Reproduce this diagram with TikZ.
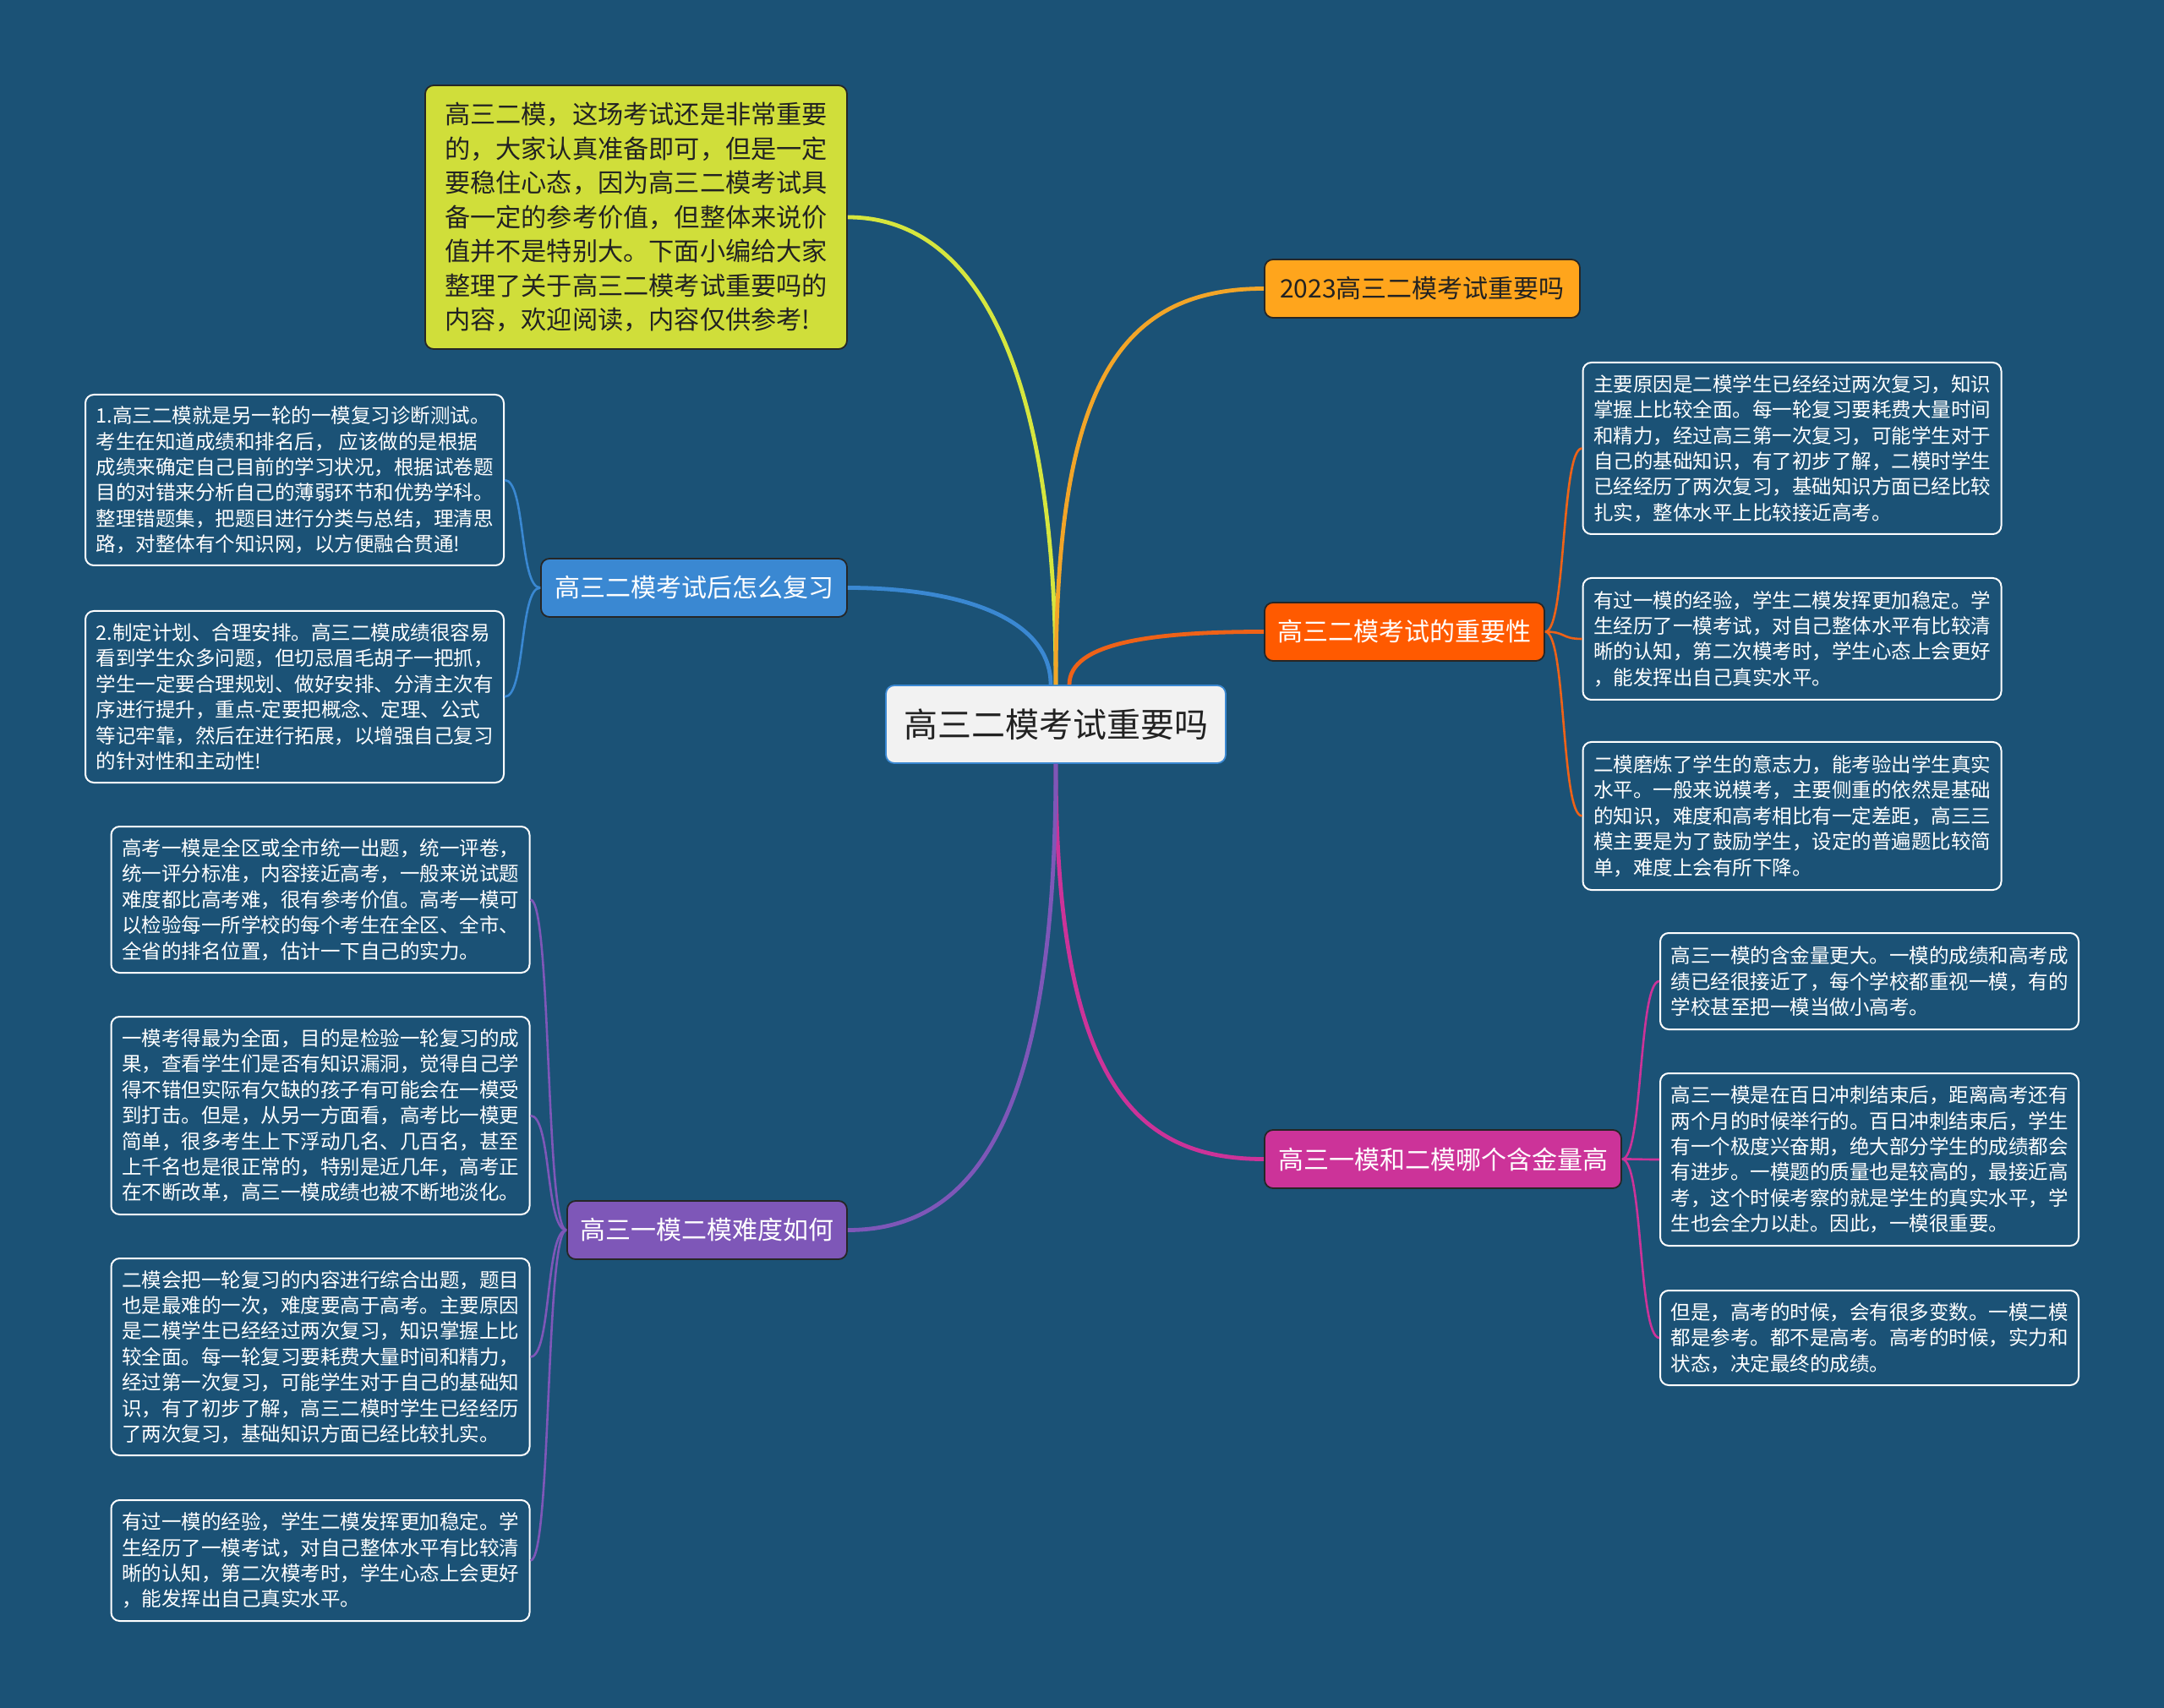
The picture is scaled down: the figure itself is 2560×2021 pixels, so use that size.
\documentclass[tikz,border=0pt]{standalone}
\usepackage{fontspec}
\setmainfont{Noto Sans CJK SC}
\definecolor{bg}{RGB}{27,82,118}
\definecolor{cyel}{RGB}{208,222,58}
\definecolor{cyelline}{RGB}{214,230,62}
\definecolor{corg}{RGB}{255,165,28}
\definecolor{corgline}{RGB}{242,165,40}
\definecolor{cred}{RGB}{255,90,0}
\definecolor{credline}{RGB}{238,98,24}
\definecolor{cmag}{RGB}{204,51,153}
\definecolor{cblue}{RGB}{58,136,210}
\definecolor{cpur}{RGB}{126,87,184}
\definecolor{ccenter}{RGB}{242,242,242}
\definecolor{ctxt}{RGB}{34,34,34}
\newfontfamily\cjk{Noto Sans CJK SC}
\newcommand{\leaffont}{\cjk\fontsize{11.75pt}{15.2pt}\selectfont}
\newcommand{\branchfont}{\cjk\fontsize{15pt}{18pt}\selectfont}
\tikzset{
  leaf/.style={draw=white, line width=1pt, rounded corners=5pt, text=white, align=left,
    font=\leaffont, inner xsep=6pt, minimum width=247.5pt},
  branch/.style={draw=black!85, line width=0.9pt, rounded corners=5pt, font=\branchfont,
    minimum height=34.5pt, inner xsep=4pt},
  mainline/.style={line width=2.4pt},
  subline/.style={line width=1.3pt},
}
\begin{document}
\begin{tikzpicture}[x=0.5pt,y=-0.5pt]
\fill[bg] (0,0) rectangle (2560,2021);
\useasboundingbox (0,0) rectangle (2560,2021);

% center
\node[draw=cblue, line width=0.9pt, fill=ccenter, rounded corners=5pt, text=ctxt,
  minimum width=201pt, minimum height=46pt, font=\cjk\fontsize{20pt}{24pt}\selectfont]
  (C) at (1249,857) {高三二模考试重要吗};

% intro
\node[branch, fill=cyel, text=ctxt, minimum width=249.5pt, minimum height=156pt, align=left,
  font=\cjk\fontsize{15.1pt}{20.25pt}\selectfont] (Y) at (752.5,257) {高三二模，这场考试还是非常重要\\
的，大家认真准备即可，但是一定\\
要稳住心态，因为高三二模考试具\\
备一定的参考价值，但整体来说价\\
值并不是特别大。下面小编给大家\\
整理了关于高三二模考试重要吗的\\
内容，欢迎阅读，内容仅供参考!};

% branches
\node[branch, fill=corg, text=ctxt, minimum width=186.5pt] (O) at (1682.5,341.5) {2023高三二模考试重要吗};
\node[branch, fill=cred, text=white, minimum width=165.5pt] (OR) at (1661.5,747.5) {高三二模考试的重要性};
\node[branch, fill=cmag, text=white, minimum width=211pt] (MG) at (1707,1371.5) {高三一模和二模哪个含金量高};
\node[branch, fill=cblue, text=white, minimum width=181pt] (B) at (821,695.5) {高三二模考试后怎么复习};
\node[branch, fill=cpur, text=white, minimum width=165.5pt] (PU) at (836.5,1455.5) {高三一模二模难度如何};

% blue leaves
\node[leaf, minimum height=101pt] (L1) at (348.5,568) {1.高三二模就是另一轮的一模复习诊断测试。\\
考生在知道成绩和排名后， 应该做的是根据\\
成绩来确定自己目前的学习状况，根据试卷题\\
目的对错来分析自己的薄弱环节和优势学科。\\
整理错题集，把题目进行分类与总结，理清思\\
路，对整体有个知识网，以方便融合贯通!};
\node[leaf, minimum height=101.5pt] (L2) at (348.5,824.5) {2.制定计划、合理安排。高三二模成绩很容易\\
看到学生众多问题，但切忌眉毛胡子一把抓，\\
学生一定要合理规划、做好安排、分清主次有\\
序进行提升，重点-定要把概念、定理、公式\\
等记牢靠，然后在进行拓展，以增强自己复习\\
的针对性和主动性!};

% purple leaves
\node[leaf, minimum height=86.5pt] (P1) at (379,1064.5) {高考一模是全区或全市统一出题，统一评卷，\\
统一评分标准，内容接近高考，一般来说试题\\
难度都比高考难，很有参考价值。高考一模可\\
以检验每一所学校的每个考生在全区、全市、\\
全省的排名位置，估计一下自己的实力。};
\node[leaf, minimum height=117pt] (P2) at (379,1320) {一模考得最为全面，目的是检验一轮复习的成\\
果，查看学生们是否有知识漏洞，觉得自己学\\
得不错但实际有欠缺的孩子有可能会在一模受\\
到打击。但是，从另一方面看，高考比一模更\\
简单，很多考生上下浮动几名、几百名，甚至\\
上千名也是很正常的，特别是近几年，高考正\\
在不断改革，高三一模成绩也被不断地淡化。};
\node[leaf, minimum height=116.5pt] (P3) at (379,1605.5) {二模会把一轮复习的内容进行综合出题，题目\\
也是最难的一次，难度要高于高考。主要原因\\
是二模学生已经经过两次复习，知识掌握上比\\
较全面。每一轮复习要耗费大量时间和精力，\\
经过第一次复习，可能学生对于自己的基础知\\
识，有了初步了解，高三二模时学生已经经历\\
了两次复习，基础知识方面已经比较扎实。};
\node[leaf, minimum height=71.5pt] (P4) at (379,1846.5) {有过一模的经验，学生二模发挥更加稳定。学\\
生经历了一模考试，对自己整体水平有比较清\\
晰的认知，第二次模考时，学生心态上会更好\\
，能发挥出自己真实水平。};

% orange-red leaves
\node[leaf, minimum height=101.5pt] (R1) at (2120,530.5) {主要原因是二模学生已经经过两次复习，知识\\
掌握上比较全面。每一轮复习要耗费大量时间\\
和精力，经过高三第一次复习，可能学生对于\\
自己的基础知识，有了初步了解，二模时学生\\
已经经历了两次复习，基础知识方面已经比较\\
扎实，整体水平上比较接近高考。};
\node[leaf, minimum height=72pt] (R2) at (2120,756) {有过一模的经验，学生二模发挥更加稳定。学\\
生经历了一模考试，对自己整体水平有比较清\\
晰的认知，第二次模考时，学生心态上会更好\\
，能发挥出自己真实水平。};
\node[leaf, minimum height=87.5pt] (R3) at (2120,965.5) {二模磨炼了学生的意志力，能考验出学生真实\\
水平。一般来说模考，主要侧重的依然是基础\\
的知识，难度和高考相比有一定差距，高三三\\
模主要是为了鼓励学生，设定的普遍题比较简\\
单，难度上会有所下降。};

% magenta leaves
\node[leaf, minimum height=57pt] (M1) at (2211.5,1161) {高三一模的含金量更大。一模的成绩和高考成\\
绩已经很接近了，每个学校都重视一模，有的\\
学校甚至把一模当做小高考。};
\node[leaf, minimum height=102pt] (M2) at (2211.5,1372) {高三一模是在百日冲刺结束后，距离高考还有\\
两个月的时候举行的。百日冲刺结束后，学生\\
有一个极度兴奋期，绝大部分学生的成绩都会\\
有进步。一模题的质量也是较高的，最接近高\\
考，这个时候考察的就是学生的真实水平，学\\
生也会全力以赴。因此，一模很重要。};
\node[leaf, minimum height=56pt] (M3) at (2211.5,1583) {但是，高考的时候，会有很多变数。一模二模\\
都是参考。都不是高考。高考的时候，实力和\\
状态，决定最终的成绩。};

% main connectors
\draw[mainline, cyelline] (C.north) .. controls +(0,-380) and +(150,0) .. (Y.east);
\draw[mainline, corgline] (C.north) .. controls +(0,-340) and +(-180,0) .. (O.west);
\draw[mainline, cblue] ([xshift=-3pt]C.north) .. controls +(0,-80) and +(130,0) .. (B.east);
\draw[mainline, credline] ([xshift=8pt]C.north) .. controls +(0,-50) and +(-130,0) .. (OR.west);
\draw[mainline, cmag] (C.south) .. controls +(0,380) and +(-150,0) .. (MG.west);
\draw[mainline, cpur] (C.south) .. controls +(0,400) and +(160,0) .. (PU.east);

% sub connectors
\foreach \n in {L1,L2}
  \draw[subline, cblue] (B.west) .. controls +(-25,0) and +(25,0) .. (\n.east);
\foreach \n in {P1,P2,P3,P4}
  \draw[subline, cpur] (PU.west) .. controls +(-25,0) and +(25,0) .. (\n.east);
\foreach \n in {R1,R2,R3}
  \draw[subline, credline] (OR.east) .. controls +(25,0) and +(-25,0) .. (\n.west);
\foreach \n in {M1,M2,M3}
  \draw[subline, cmag] (MG.east) .. controls +(25,0) and +(-25,0) .. (\n.west);
\end{tikzpicture}
\end{document}
